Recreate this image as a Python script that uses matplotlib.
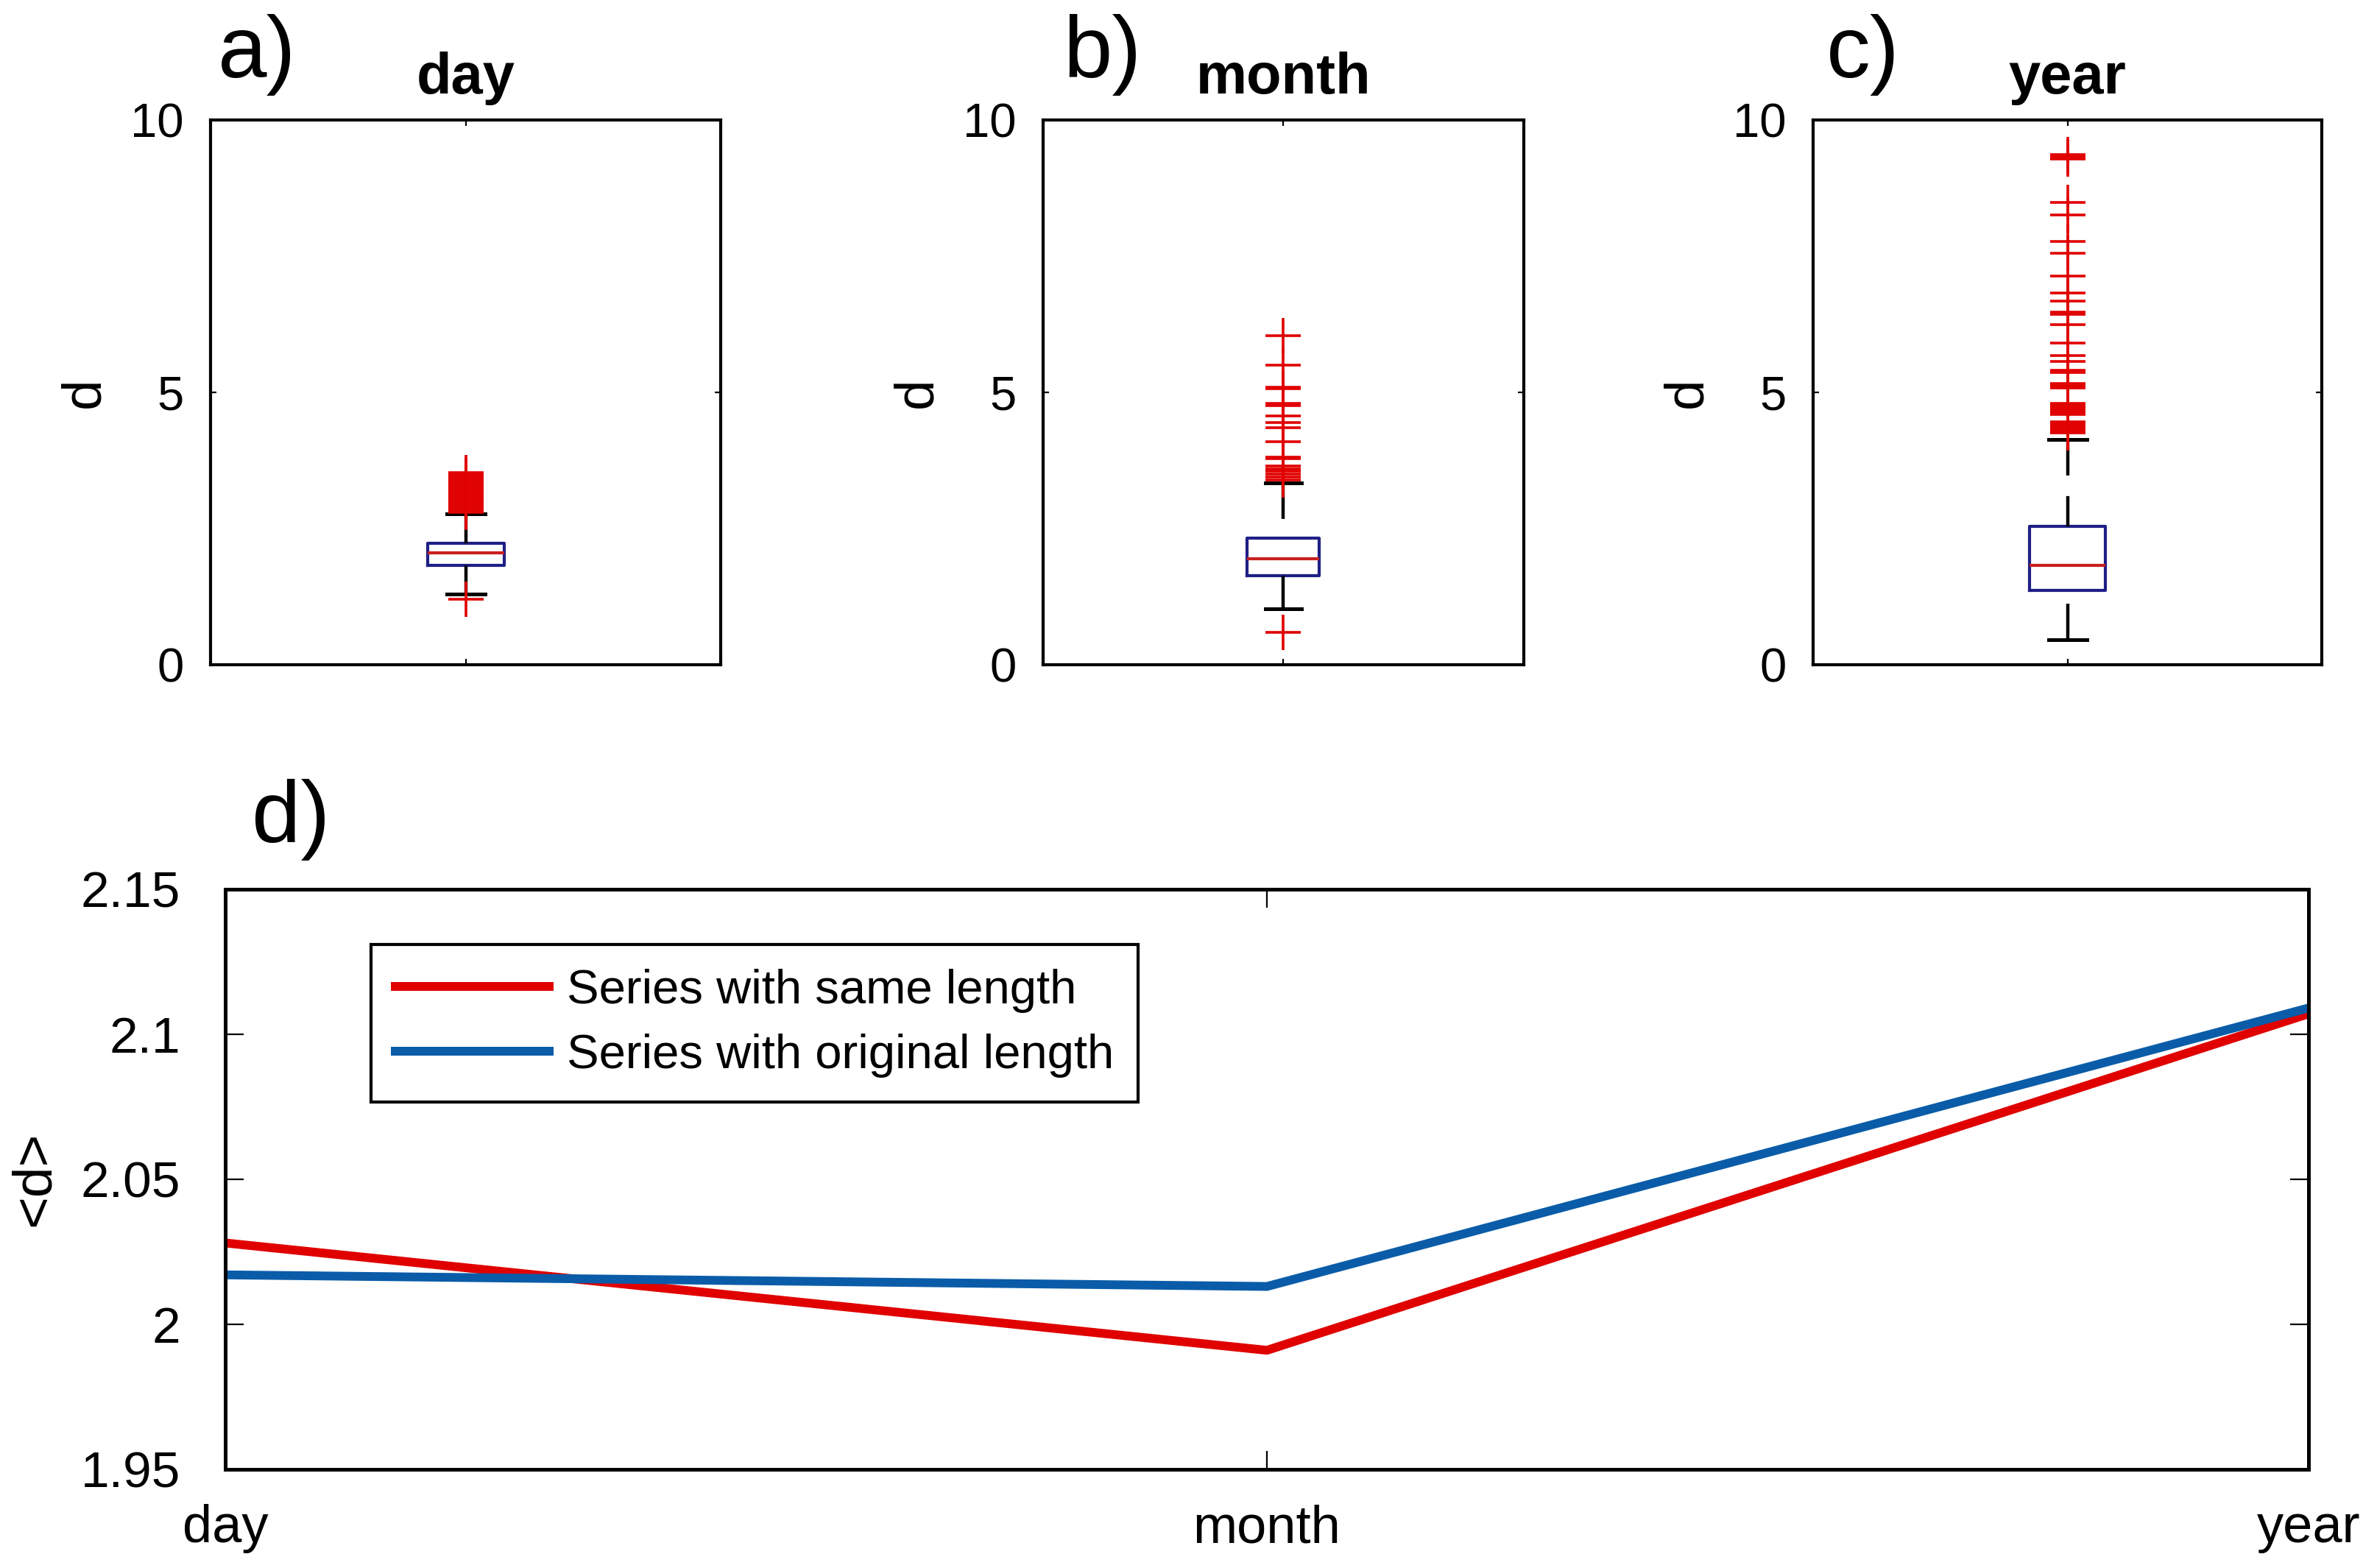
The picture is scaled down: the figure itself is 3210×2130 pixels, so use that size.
import matplotlib
matplotlib.use("Agg")
import matplotlib.pyplot as plt

plt.rcParams['font.family'] = ['Liberation Sans', 'DejaVu Sans']

# box plots of d for each resolution
panel_titles = ["day", "month", "year"]
panel_letters = ["a)", "b)", "c)"]
box_med = [2.05, 1.95, 1.82]
box_q1 = [1.82, 1.64, 1.36]
box_q3 = [2.23, 2.32, 2.54]
whisk_lo = [1.29, 1.02, 0.46]
whisk_hi = [2.77, 3.33, 4.13]
fliers_day = [1.20, 2.80, 2.84, 2.88, 2.92, 2.96, 3.00, 3.04, 3.08, 3.12, 3.16,
              3.20, 3.24, 3.28, 3.32, 3.36, 3.40, 3.44, 3.48, 3.52]
fliers_month = [0.60, 3.39, 3.45, 3.50, 3.55, 3.60, 3.65, 3.78, 3.81, 4.09,
                4.35, 4.45, 4.56, 4.76, 4.80, 5.06, 5.10, 5.50, 6.04]
fliers_year = [4.25, 4.30, 4.34, 4.38, 4.42, 4.46, 4.60, 4.64, 4.68, 4.72,
               4.76, 4.80, 5.08, 5.12, 5.16, 5.36, 5.40, 5.56, 5.67, 5.90,
               6.24, 6.43, 6.47, 6.67, 6.83, 7.13, 7.55, 7.77, 8.26, 8.48,
               9.28, 9.32, 9.36]
fliers_all = [fliers_day, fliers_month, fliers_year]

# mean d against resolution
scales = ["day", "month", "year"]
mean_same = [2.028, 1.991, 2.107]
mean_orig = [2.017, 2.013, 2.109]

navy = "#1f1f86"
red = "#e00000"
blue = "#0a5ca8"

fig = plt.figure(figsize=(16.05, 10.65), dpi=200)

box_pos = [[0.0891, 0.5761, 0.2159, 0.3474],
           [0.4414, 0.5761, 0.2034, 0.3474],
           [0.7673, 0.5761, 0.2153, 0.3474]]
letter_x = [0.0922, 0.4498, 0.773]
for i in range(3):
    ax = fig.add_axes(box_pos[i])
    stats = [dict(med=box_med[i], q1=box_q1[i], q3=box_q3[i],
                  whislo=whisk_lo[i], whishi=whisk_hi[i], fliers=fliers_all[i])]
    bp = ax.bxp(stats, positions=[1], widths=0.15, capwidths=0.075,
                boxprops=dict(color=navy, lw=1.5),
                medianprops=dict(color="#c82020", lw=1.5),
                whiskerprops=dict(color="k", lw=1.6, linestyle=(0, (11, 6.3))),
                capprops=dict(color="k", lw=1.8),
                flierprops=dict(marker="+", markersize=17, markeredgecolor=red,
                                markeredgewidth=1.3, linestyle="none"))
    # dashes start at the cap end, as in the original
    for w in bp["whiskers"]:
        x, y = w.get_data()
        w.set_data(x[::-1], y[::-1])
    ax.set_xlim(0.5, 1.5)
    ax.set_ylim(0, 10)
    ax.set_yticks([0, 5, 10])
    ax.set_xticks([1])
    ax.set_xticklabels([])
    ax.tick_params(direction="in", length=3, top=True, right=True,
                   labelsize=23.5, pad=13)
    for s in ax.spines.values():
        s.set_linewidth(1.5)
    ax.set_ylabel("d", fontsize=27, labelpad=10)
    ax.set_title(panel_titles[i], fontweight="bold", fontsize=28, pad=13)
    fig.text(letter_x[i], 0.9507, panel_letters[i], fontsize=43, va="baseline")

# panel d
axd = fig.add_axes([0.0953, 0.063, 0.8817, 0.370])
xs = list(range(len(scales)))
axd.plot(xs, mean_same, color=red, lw=4.3, label="Series with same length")
axd.plot(xs, mean_orig, color=blue, lw=4.3, label="Series with original length")
axd.set_xlim(0, 2)
axd.set_ylim(1.95, 2.15)
axd.set_xticks(xs)
axd.set_xticklabels(scales)
axd.set_yticks([1.95, 2.0, 2.05, 2.1, 2.15])
axd.set_yticklabels(["1.95", "2", "2.05", "2.1", "2.15"])
axd.tick_params(axis="y", direction="in", length=9, right=True,
                labelsize=25, pad=22)
axd.tick_params(axis="x", direction="in", length=9, top=True,
                labelsize=26, pad=17)
for s in axd.spines.values():
    s.set_linewidth(1.8)
axd.set_ylabel("<d>", fontsize=27, labelpad=10)
leg = axd.legend(loc="upper left", bbox_to_anchor=(0.070, 0.904),
                 borderaxespad=0, fontsize=23.5, fancybox=False, framealpha=1,
                 edgecolor="k", handlelength=3.2, handletextpad=0.38,
                 borderpad=0.5, labelspacing=0.43)
leg.get_frame().set_linewidth(1.5)
fig.text(0.1065, 0.463, "d)", fontsize=43, va="baseline")

fig.savefig("out.png", dpi=200)
